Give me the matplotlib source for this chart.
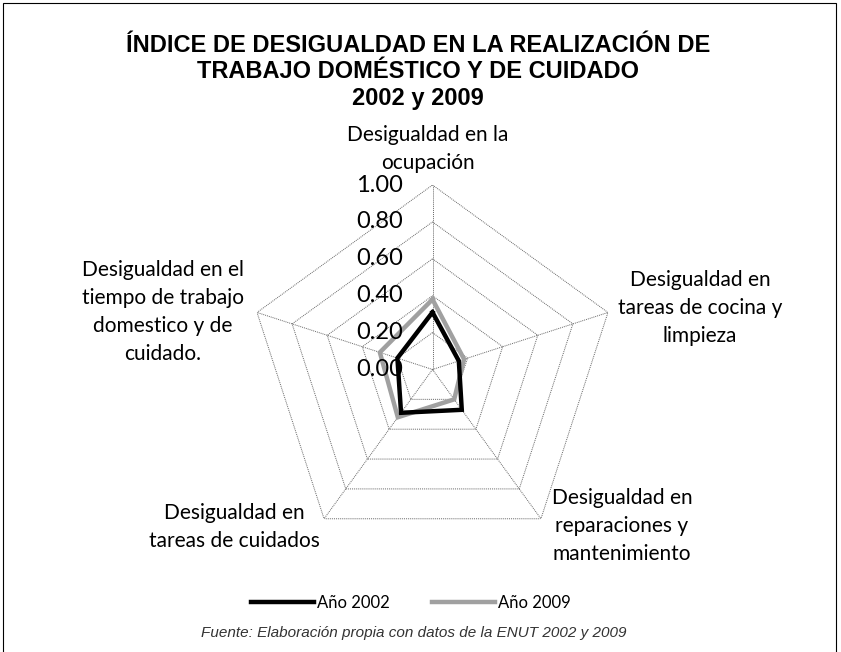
import numpy as np
import matplotlib.pyplot as plt
from matplotlib.patches import Rectangle

# categories, clockwise from the top
categorias = [
    "Desigualdad en la\nocupación",
    "Desigualdad en\ntareas de cocina y\nlimpieza",
    "Desigualdad en\nreparaciones y\nmantenimiento",
    "Desigualdad en\ntareas de cuidados",
    "Desigualdad en el\ntiempo de trabajo\ndomestico y de\ncuidado.",
]
anio_2002 = [0.31, 0.15, 0.27, 0.29, 0.20]
anio_2009 = [0.38, 0.18, 0.20, 0.32, 0.30]
niveles = [0.0, 0.2, 0.4, 0.6, 0.8, 1.0]
etiquetas_niveles = ["0.00", "0.20", "0.40", "0.60", "0.80", "1.00"]

W, H = 841, 652
fig = plt.figure(figsize=(W / 100, H / 100), dpi=100)

cx, cy, R = 432.5, 369.5, 184.5
ax = fig.add_axes([(cx - R) / W, (H - cy - R) / H, 2 * R / W, 2 * R / H],
                  projection='polar')
ax.set_theta_zero_location('N')
ax.set_theta_direction(-1)
ax.set_ylim(0, 1.0)
ax.grid(False)
ax.spines['polar'].set_visible(False)
ax.set_xticks([])
ax.set_yticks([])
ax.patch.set_alpha(0)

n = len(categorias)
angulos = np.linspace(0, 2 * np.pi, n, endpoint=False)
cerrado = np.concatenate([angulos, angulos[:1]])

# pentagon grid
for r in niveles[1:]:
    ax.plot(cerrado, [r] * (n + 1), color='#666666', lw=0.7,
            linestyle=(0, (1, 1)), zorder=1)
for a in angulos:
    ax.plot([a, a], [0, 1.0], color='#666666', lw=0.7,
            linestyle=(0, (1, 1)), zorder=1)

# series
v02 = anio_2002 + anio_2002[:1]
v09 = anio_2009 + anio_2009[:1]
l09, = ax.plot(cerrado, v09, color='#a0a0a0', lw=3.2, zorder=3,
               solid_joinstyle='miter')
l02, = ax.plot(cerrado, v02, color='black', lw=3.2, zorder=4,
               solid_joinstyle='miter')

# radial labels, left of the vertical spoke
for r, t in zip(niveles, etiquetas_niveles):
    ax.annotate(t, xy=(0, r), xytext=(-21, 0), textcoords='offset points',
                ha='right', va='center', fontsize=17, family='Lato',
                zorder=5, annotation_clip=False)

# category labels
pos = [(428, 149), (700, 308), (622, 526), (234, 527), (163, 312)]
for txt, (x, y) in zip(categorias, pos):
    fig.text(x / W, 1 - y / H, txt, ha='center', va='center', fontsize=15,
             family='Lato', linespacing=1.5)

fig.text(418 / W, 1 - 72 / H,
         "ÍNDICE DE DESIGUALDAD EN LA REALIZACIÓN DE\n"
         "TRABAJO DOMÉSTICO Y DE CUIDADO\n2002 y 2009",
         ha='center', va='center', fontsize=17, fontweight='bold',
         family='Liberation Sans', linespacing=1.2)

fig.legend([l02, l09], ["Año 2002", "Año 2009"], loc='center',
           bbox_to_anchor=(411 / W, 1 - 603 / H), ncol=2, frameon=False,
           prop={'family': 'Lato', 'size': 12}, handlelength=3.8,
           handletextpad=0.2, columnspacing=2.5)

fig.text(414 / W, 1 - 633 / H,
         "Fuente: Elaboración propia con datos de la ENUT 2002 y 2009",
         ha='center', va='center', fontsize=11, style='italic',
         family='Liberation Sans', color='#333333')

fig.patches.append(Rectangle((3 / W, -0.01), 833 / W, 1 - 3 / H + 0.01,
                             transform=fig.transFigure, fill=False,
                             edgecolor='black', lw=0.8))

fig.savefig('out.png', dpi=100)
